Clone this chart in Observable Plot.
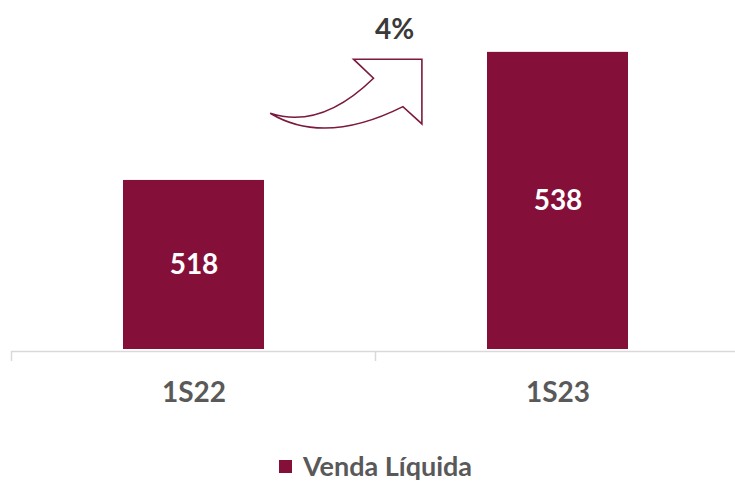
<!DOCTYPE html>
<html><head><meta charset="utf-8">
<script src="https://cdn.jsdelivr.net/npm/d3@7"></script>
<script src="https://cdn.jsdelivr.net/npm/@observablehq/plot@0.6"></script>
<style>
body{margin:0;background:#fff;font-family:Lato,"Open Sans",sans-serif;overflow:hidden;}
#legend{display:flex;align-items:center;justify-content:center;height:32px;line-height:32px;margin-top:20px;padding-left:16px;color:#595959;font-weight:700;font-size:27px;}
#legend .sw{width:13px;height:13px;background:#84103A;margin-right:11px;}
</style></head><body>
<div id="chart"></div>
<div id="legend"><span class="sw"></span><span id="legtext"></span></div>
<script>
const categories = ["1S22", "1S23"];
const values = [518, 538];
const seriesName = "Venda Líquida";
const yDomain = [491.6, 546.1];

const data = categories.map((c, i) => ({cat: c, value: values[i]}));
const barColor = "#84103A";
const yMin = yDomain[0];

const plot = Plot.plot({
  width: 735,
  height: 430,
  marginLeft: 11,
  marginRight: 0,
  marginTop: 0,
  marginBottom: 81,
  style: {fontFamily: "Lato, 'Open Sans', sans-serif", background: "white"},
  x: {type: "band", domain: categories, range: [11, 740], paddingInner: 0.613, paddingOuter: 0.3065, align: 0.5, axis: null},
  y: {domain: yDomain, axis: null},
  marks: [
    Plot.barY(data, {x: "cat", y1: () => yMin, y2: "value", fill: barColor}),
    Plot.ruleY([yMin], {stroke: "#d9d9d9", strokeWidth: 1.5, dy: 2}),
    Plot.text(data, {x: "cat", y: d => (yMin + d.value) / 2, text: d => String(d.value), fill: "white", fontSize: 28, fontWeight: "bold"}),
    Plot.axisX({tickSize: 0, tickPadding: 33, fontSize: 28, fontWeight: "bold", fill: "#595959", label: null})
  ]
});
document.getElementById("chart").append(plot);
document.getElementById("legtext").textContent = seriesName;

// Decorations from the scales: category boundary ticks, growth arrow, growth label
const sx = plot.scale("x"), sy = plot.scale("y");
const svg = d3.select(plot);
const base = sy.apply(yMin) + 2;
const step = sx.step, bw = sx.bandwidth;
categories.forEach(c => {
  const xb = sx.apply(c) + bw / 2 - step / 2;
  svg.append("line").attr("x1", xb).attr("x2", xb).attr("y1", base).attr("y2", base + 10)
    .attr("stroke", "#d9d9d9").attr("stroke-width", 1.5);
});
const ax = (sx.apply(categories[0]) + bw + sx.apply(categories[1])) / 2;
const ay = sy.apply(values[1]);
const P = (dx, dy) => `${(ax + dx).toFixed(1)},${(ay + dy).toFixed(1)}`;
const d = `M${P(-105.3, 61.3)} Q${P(-55, 78)} ${P(-2, 26.3)} L${P(-22, 7.3)} L${P(46.4, 7.3)} L${P(46.4, 72)} L${P(27.4, 54.7)} Q${P(-51, 94)} ${P(-105.3, 61.3)} Z`;
svg.append("path").attr("d", d).attr("fill", "white").attr("stroke", "#7b1a3e").attr("stroke-width", 1.6).attr("stroke-linejoin", "miter");
const growth = Math.round((values[1] / values[0] - 1) * 100);
svg.append("text").attr("x", ax + 19).attr("y", ay - 24).attr("text-anchor", "middle").attr("dominant-baseline", "central")
  .attr("font-size", 28).attr("font-weight", "bold").attr("fill", "#3a3a3a").text(growth + "%");
</script>
</body></html>
